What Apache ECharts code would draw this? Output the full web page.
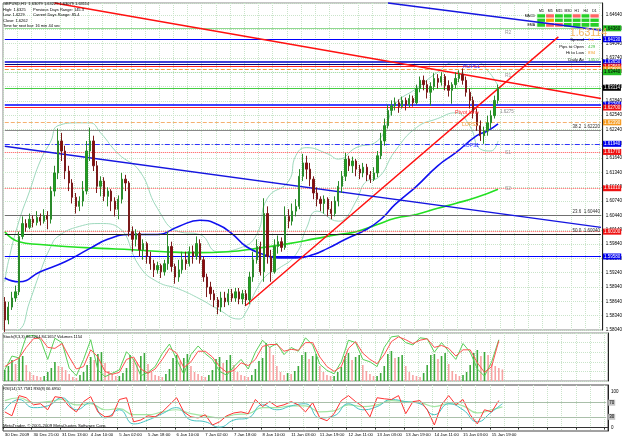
<!DOCTYPE html>
<html>
<head>
<meta charset="UTF-8">
<title>GBPUSD,H1</title>
<style>
    html, body { margin: 0; padding: 0; background: #fff; }
    #chart { width: 625px; height: 438px; }
</style>
</head>
<body>
<div id="chart"></div>
<script src="https://cdn.jsdelivr.net/npm/echarts@6/dist/echarts.min.js"></script>
<script>
// time labels, one every 8 bars
var tickLabels = ['30 Dec 2009', '30 Dec 21:00', '31 Dec 13:00', '4 Jan 10:00', '5 Jan 02:00', '5 Jan 18:00',
    '6 Jan 10:00', '7 Jan 02:00', '7 Jan 18:00', '8 Jan 10:00', '11 Jan 03:00', '11 Jan 19:00',
    '12 Jan 11:00', '13 Jan 03:00', '13 Jan 19:00', '14 Jan 11:00', '15 Jan 03:00', '15 Jan 19:00'];

// [open, close, low, high]
var ohlc = [
    [1.5863,1.5825,1.5800,1.5873],[1.5825,1.5852,1.5816,1.5863],[1.5852,1.5871,1.5846,1.5884],[1.5871,1.5884,1.5863,1.5897],
    [1.5884,1.6000,1.5877,1.6010],[1.6000,1.6027,1.5994,1.6042],[1.6027,1.6019,1.6010,1.6036],[1.6019,1.6036,1.6015,1.6048],
    [1.6036,1.6029,1.6019,1.6044],[1.6029,1.6040,1.6023,1.6053],[1.6040,1.6032,1.6023,1.6048],[1.6032,1.6044,1.6027,1.6057],
    [1.6044,1.6036,1.6015,1.6053],[1.6036,1.6095,1.6027,1.6105],[1.6095,1.6133,1.6084,1.6148],[1.6133,1.6200,1.6120,1.6226],
    [1.6200,1.6179,1.6158,1.6217],[1.6179,1.6137,1.6120,1.6190],[1.6137,1.6112,1.6095,1.6148],[1.6112,1.6082,1.6069,1.6120],
    [1.6082,1.6063,1.6048,1.6091],[1.6063,1.6074,1.6053,1.6084],[1.6074,1.6095,1.6063,1.6116],[1.6095,1.6179,1.6088,1.6200],
    [1.6179,1.6200,1.6158,1.6228],[1.6200,1.6148,1.6137,1.6211],[1.6148,1.6105,1.6091,1.6158],[1.6105,1.6116,1.6084,1.6126],
    [1.6116,1.6084,1.6074,1.6124],[1.6084,1.6095,1.6063,1.6103],[1.6095,1.6074,1.6053,1.6099],[1.6074,1.6057,1.6042,1.6082],
    [1.6057,1.6078,1.6036,1.6086],[1.6078,1.6120,1.6069,1.6133],[1.6120,1.6112,1.6095,1.6129],[1.6112,1.6010,1.6000,1.6116],
    [1.6010,1.5994,1.5968,1.6021],[1.5994,1.6006,1.5979,1.6015],[1.6006,1.5972,1.5958,1.6010],[1.5972,1.5985,1.5951,1.5994],
    [1.5985,1.5958,1.5943,1.5989],[1.5958,1.5943,1.5930,1.5968],[1.5943,1.5930,1.5915,1.5951],[1.5930,1.5939,1.5922,1.5947],
    [1.5939,1.5926,1.5913,1.5943],[1.5926,1.5943,1.5918,1.5951],[1.5943,1.5979,1.5930,1.6010],[1.5979,1.5937,1.5926,1.5989],
    [1.5937,1.5915,1.5901,1.5943],[1.5915,1.5930,1.5905,1.5951],[1.5930,1.5951,1.5922,1.5968],[1.5951,1.5943,1.5930,1.5968],
    [1.5943,1.5968,1.5937,1.5979],[1.5968,1.5958,1.5943,1.5981],[1.5958,1.5985,1.5951,1.6000],[1.5985,1.5951,1.5943,1.5994],
    [1.5951,1.5915,1.5905,1.5958],[1.5915,1.5894,1.5873,1.5922],[1.5894,1.5880,1.5867,1.5905],[1.5880,1.5867,1.5852,1.5888],
    [1.5867,1.5852,1.5837,1.5873],[1.5852,1.5871,1.5842,1.5884],[1.5871,1.5863,1.5852,1.5884],[1.5863,1.5880,1.5856,1.5890],
    [1.5880,1.5871,1.5863,1.5890],[1.5871,1.5884,1.5863,1.5892],[1.5884,1.5869,1.5858,1.5892],[1.5869,1.5880,1.5858,1.5888],
    [1.5880,1.5867,1.5854,1.5888],[1.5867,1.5915,1.5858,1.5926],[1.5915,1.5951,1.5905,1.5968],[1.5951,1.5979,1.5943,1.5994],
    [1.5979,1.5926,1.5918,1.5989],[1.5926,1.6048,1.5905,1.6080],[1.6048,1.5958,1.5943,1.6063],[1.5958,1.5926,1.5905,1.5972],
    [1.5926,1.5979,1.5922,1.5994],[1.5979,1.5989,1.5964,1.6002],[1.5989,1.5977,1.5968,1.5998],[1.5977,1.6042,1.5972,1.6063],
    [1.6042,1.6032,1.6017,1.6057],[1.6032,1.6053,1.6023,1.6069],[1.6053,1.6063,1.6042,1.6078],[1.6063,1.6126,1.6057,1.6141],
    [1.6126,1.6154,1.6116,1.6173],[1.6154,1.6141,1.6120,1.6169],[1.6141,1.6120,1.6105,1.6154],[1.6120,1.6091,1.6078,1.6126],
    [1.6091,1.6078,1.6063,1.6103],[1.6078,1.6069,1.6053,1.6084],[1.6069,1.6078,1.6048,1.6086],[1.6078,1.6057,1.6042,1.6082],
    [1.6057,1.6048,1.6036,1.6074],[1.6048,1.6074,1.6042,1.6084],[1.6074,1.6105,1.6063,1.6116],[1.6105,1.6126,1.6091,1.6137],
    [1.6126,1.6162,1.6116,1.6175],[1.6162,1.6148,1.6137,1.6169],[1.6148,1.6158,1.6133,1.6167],[1.6158,1.6141,1.6126,1.6162],
    [1.6141,1.6133,1.6120,1.6150],[1.6133,1.6145,1.6124,1.6154],[1.6145,1.6129,1.6116,1.6152],[1.6129,1.6120,1.6112,1.6137],
    [1.6120,1.6133,1.6116,1.6145],[1.6133,1.6169,1.6124,1.6179],[1.6169,1.6200,1.6162,1.6217],[1.6200,1.6232,1.6190,1.6247],
    [1.6232,1.6264,1.6226,1.6276],[1.6264,1.6274,1.6253,1.6285],[1.6274,1.6280,1.6264,1.6291],[1.6280,1.6272,1.6259,1.6287],
    [1.6272,1.6285,1.6268,1.6293],[1.6285,1.6276,1.6264,1.6291],[1.6276,1.6289,1.6270,1.6297],[1.6289,1.6280,1.6272,1.6295],
    [1.6280,1.6310,1.6276,1.6318],[1.6310,1.6327,1.6302,1.6335],[1.6327,1.6318,1.6306,1.6337],[1.6318,1.6302,1.6289,1.6327],
    [1.6302,1.6314,1.6274,1.6323],[1.6314,1.6331,1.6306,1.6342],[1.6331,1.6323,1.6310,1.6340],[1.6323,1.6335,1.6316,1.6344],
    [1.6335,1.6316,1.6306,1.6340],[1.6316,1.6306,1.6293,1.6327],[1.6306,1.6318,1.6278,1.6323],[1.6318,1.6331,1.6310,1.6344],
    [1.6331,1.6340,1.6323,1.6348],[1.6340,1.6327,1.6318,1.6352],[1.6327,1.6302,1.6293,1.6335],[1.6302,1.6285,1.6268,1.6310],
    [1.6285,1.6259,1.6247,1.6293],[1.6259,1.6232,1.6221,1.6268],[1.6232,1.6211,1.6200,1.6243],[1.6211,1.6221,1.6194,1.6230],
    [1.6221,1.6238,1.6211,1.6253],[1.6238,1.6253,1.6226,1.6264],[1.6253,1.6285,1.6247,1.6295],[1.6285,1.6312,1.6278,1.6318]
];

var volumes = [1100,1500,2100,1700,2300,2500,1600,900, 600,500,400,500,900,1300,1900,1500,
    1400,1100,700,400,300,600,900,1600, 2400,2100,2700,2900,1800,1000,700,500,
    500,800,1300,2600,2200,1900,2500,2800, 1700,900,600,500,400,700,1200,2300,
    2600,2000,2300,2700,1500,900,700,500, 400,600,1100,2200,2400,1800,2100,2600,
    1600,900,600,500,400,600,1200,2000, 2300,3800,3400,2600,1500,900,600,800,
    700,1000,1500,2600,2900,2200,2500,2700, 1500,900,600,500,500,900,1400,2500,
    2800,2100,2400,2600,1600,1000,700,500, 500,800,1500,2700,3000,2300,2400,2600,
    1500,900,600,500,400,800,1600,2600, 2700,2200,2500,2800,1700,1000,700,500,
    600,900,1600,2800,3100,2500,2900,2600, 1700,1500,1300,1154];

// [bar, price]
var maBlue = [[0,1.5913],[4,1.5905],[10,1.5926],[17,1.5947],[24,1.5975],[29,1.5994],[35,1.6004],[43,1.6004],
    [49,1.6021],[55,1.6034],[60,1.6025],[64,1.6006],[68,1.5979],[73,1.5962],[77,1.5955],[82,1.5955],
    [87,1.5962],[91,1.5975],[96,1.5994],[102,1.6015],[106,1.6036],[110,1.6067],[116,1.6105],[122,1.6148],
    [127,1.6175],[133,1.6211],[136,1.6221],[139,1.6236]];
var maGreen = [[0,1.6010],[4,1.5989],[10,1.5983],[17,1.5979],[27,1.5975],[36,1.5972],[45,1.5968],[54,1.5966],
    [63,1.5968],[71,1.5975],[80,1.5985],[88,1.5996],[94,1.6004],[99,1.6010],[105,1.6025],[110,1.6038],
    [116,1.6046],[122,1.6059],[127,1.6069],[133,1.6082],[139,1.6099]];
var bbUpper = [[0,1.5905],[1,1.5947],[4,1.6032],[7,1.6095],[10,1.6158],[13,1.6200],[15,1.6232],[21,1.6238],
    [24,1.6238],[27,1.6217],[32,1.6173],[38,1.6137],[43,1.6059],[49,1.6010],[55,1.6004],[60,1.5968],
    [66,1.5975],[71,1.6004],[74,1.6080],[80,1.6116],[82,1.6169],[85,1.6186],[91,1.6173],[94,1.6162],
    [99,1.6186],[105,1.6200],[108,1.6243],[110,1.6278],[116,1.6310],[122,1.6344],[127,1.6365],[133,1.6365],
    [136,1.6348],[139,1.6316]];
var bbLower = [[0,1.5800],[1,1.5800],[4,1.5804],[7,1.5863],[10,1.5926],[13,1.5979],[15,1.6000],[21,1.6021],
    [27,1.6027],[32,1.6019],[38,1.5937],[43,1.5905],[49,1.5890],[55,1.5869],[60,1.5848],[66,1.5827],
    [68,1.5842],[71,1.5890],[74,1.5920],[77,1.5932],[82,1.5962],[85,1.6017],[88,1.6053],[94,1.6032],
    [96,1.6038],[99,1.6074],[102,1.6116],[105,1.6122],[110,1.6179],[116,1.6228],[122,1.6247],[127,1.6259],
    [131,1.6232],[134,1.6183],[137,1.6179],[139,1.6200]];

// horizontal levels on the price chart
var levelPrices = [1.6436, 1.6413, 1.6365, 1.6361, 1.6356, 1.6350, 1.6344, 1.63114, 1.6276, 1.6270,
    1.6239, 1.6222, 1.6194, 1.6177, 1.6101, 1.6044, 1.6010, 1.6004, 1.5958];
var fibText = {11: '38.2  1.62220', 15: '23.6  1.60440', 17: '50.0  1.60040'};

// trend lines: [[bar, price], [bar, price]]
var trendLines = [
    [[14, 1.6489], [168, 1.6289]],
    [[68, 1.5856], [156, 1.6418]],
    [[0, 1.6189], [168, 1.6019]],
    [[108, 1.6489], [168, 1.6432]]
];

// stochastic, one value every 2 bars
var stochK = [23,52,48,93,95,86,45,89,80,27,11,45,86,23,9,16,23,61,45,11,18,30,57,77,45,14,55,73,57,45,
    20,12,30,45,25,60,85,70,78,55,70,62,90,75,35,22,15,40,85,80,45,40,30,70,92,94,80,75,90,88,
    60,80,62,45,78,60,25,10,40,86];
var stochD = [30,40,48,70,88,90,70,68,78,50,25,30,65,50,20,14,18,45,50,25,16,25,45,68,58,28,40,62,62,50,
    30,18,22,38,32,45,72,76,76,62,66,64,80,80,50,30,20,30,68,82,58,45,36,55,82,92,86,78,85,88,
    70,74,68,52,65,65,38,18,30,84];

// lower window, red every 2 bars, the others every 4 bars
var rsiRed = [44,33,90,84,64,67,50,87,84,59,44,73,87,44,30,33,79,84,16,21,33,30,44,64,84,44,30,27,36,7,
    16,33,41,44,39,79,59,73,59,64,73,64,44,70,27,19,39,76,90,73,59,30,84,81,79,90,39,73,76,50,
    7,64,90,64,79,36,10,50,44,76];
var rsiGreen = [76,84,70,73,79,64,67,50,53,36,36,44,50,39,33,27,36,39,56,56,61,61,44,47,64,59,64,76,73,70,59,67,61,41,50,58];
var rsiTeal = [50,79,56,61,84,50,70,27,50,10,21,39,56,21,16,1,21,27,64,50,61,67,27,33,67,50,59,79,73,67,36,67,50,16,44,67];
var rsiLevels = [70, 30];

// timeframe signal panel
var tfNames = ['M1', 'M5', 'M15', 'M30', 'H1', 'H4', 'D1'];
var sigNames = ['MACD', 'STR', 'EMA'];
var sigValues = [
    [1, -1, 1, 1, -1, 1, -1],
    [1, 0, 1, 1, 1, 1, 1],
    [1, -1, -1, 1, 1, 1, 1]
];

var NCAT = 169;
var FONT = 'Liberation Sans';
var cats = [];
for (var i = 0; i < NCAT; i++) cats.push('b' + i);

function pairs(arr, step) {
    return arr.map(function (v, k) { return [k * step, v]; });
}
function lastPoint(arr, step, lastBar) {
    var p = pairs(arr.slice(0, arr.length - 1), step);
    p.push([lastBar, arr[arr.length - 1]]);
    return p;
}

var hStyle = [
    {c: '#8fd88f', t: 'solid', w: 1, bg: '#22bb22', fg: '#000'},
    {c: '#0000ff', t: 'solid', w: 1, bg: '#0000ee', fg: '#fff'},
    {c: '#0000cc', t: 'solid', w: 1.5, bg: '#0000ee', fg: '#fff'},
    {c: '#000080', t: 'solid', w: 1, bg: null},
    {c: '#ff2020', t: 'solid', w: 1, bg: '#ee1111', fg: '#fff'},
    {c: '#f0a040', t: 'dashed', w: 1, bg: '#f59a20', fg: '#fff'},
    {c: '#9fdc9f', t: 'dotted', w: 1, bg: '#22bb22', fg: '#000'},
    {c: '#44cc44', t: 'solid', w: 1, bg: '#000', fg: '#fff'},
    {c: '#0000ff', t: 'solid', w: 1.5, bg: '#0000ee', fg: '#fff'},
    {c: '#ff2020', t: 'solid', w: 1, bg: '#ee1111', fg: '#fff'},
    {c: '#f5b070', t: 'dashed', w: 1, bg: '#f59a20', fg: '#fff'},
    {c: '#888888', t: 'solid', w: 1, bg: null},
    {c: '#3030ff', t: [5, 2, 1, 2], w: 1, bg: '#0000ee', fg: '#fff'},
    {c: '#ff5050', t: 'dotted', w: 1, bg: '#ee1111', fg: '#fff'},
    {c: '#ff6060', t: 'dotted', w: 1, bg: '#ee1111', fg: '#fff'},
    {c: '#707070', t: 'solid', w: 1, bg: null},
    {c: '#ff5050', t: 'dotted', w: 1, bg: '#ee1111', fg: '#fff'},
    {c: '#202020', t: 'solid', w: 1.2, bg: null},
    {c: '#0000ff', t: 'solid', w: 1.2, bg: '#0000ee', fg: '#fff'}
];

var levelData = levelPrices.map(function (p, k) {
    var s = hStyle[k];
    var first = {coord: [0, p], lineStyle: {color: s.c, type: s.t, width: s.w}};
    if (fibText[k]) {
        first.label = {show: true, position: 'insideEndTop', formatter: fibText[k], color: '#333',
            fontSize: 4.5, distance: 1, fontFamily: FONT};
    } else if (s.bg) {
        first.label = {show: true, position: 'end', formatter: p.toFixed(5), color: s.fg, backgroundColor: s.bg,
            fontSize: 4.5, distance: 2, padding: [1, 1, 0, 1], fontFamily: FONT};
    } else {
        first.label = {show: false};
    }
    return [first, {coord: [NCAT - 1, p]}];
});

var rsiLevelData = rsiLevels.map(function (v) {
    return [{coord: [0, v], label: {show: true, position: 'end', formatter: String(v), distance: 2, fontSize: 4.5,
        color: '#000', backgroundColor: '#c4c4c4', padding: [1, 1, 0, 1], fontFamily: FONT}},
        {coord: [NCAT - 1, v]}];
});

var trendColors = ['#ff1010', '#ff1010', '#1515e0', '#1515e0'];
var trendData = trendLines.map(function (t, k) {
    return [{coord: t[0], lineStyle: {color: trendColors[k], width: 1.4, type: 'solid'}}, {coord: t[1]}];
});

var dotLine = {color: '#c9e4c9', type: 'dotted', width: 1};

function txt(x, y, s, color, size, extra) {
    var st = {text: s, x: x, y: y, fill: color || '#000', fontSize: size || 4, fontFamily: FONT};
    if (extra) for (var k in extra) st[k] = extra[k];
    return {type: 'text', style: st, silent: true, z: 100};
}

var heatData = [];
sigValues.forEach(function (row, r) {
    row.forEach(function (v, c) { heatData.push([c, r, v]); });
});

var chart = echarts.init(document.getElementById('chart'));
var option = {
    animation: false,
    backgroundColor: '#ffffff',
    grid: [
        {left: 3, right: 17, top: 3, height: 327, show: true, borderColor: '#8a8a8a', borderWidth: 1},
        {left: 3, right: 17, top: 333, height: 48, show: true, borderColor: '#8a8a8a', borderWidth: 1},
        {left: 3, right: 17, top: 385, height: 46, show: true, borderColor: '#444', borderWidth: 1},
        {left: 537, top: 14, width: 62, height: 13}
    ],
    xAxis: [
        {type: 'category', gridIndex: 0, data: cats, axisLine: {show: false}, axisTick: {show: false},
            axisLabel: {show: false}, splitLine: {show: true, interval: 3, lineStyle: dotLine}},
        {type: 'category', gridIndex: 1, data: cats, axisLine: {show: false}, axisTick: {show: false},
            axisLabel: {show: false}, splitLine: {show: true, interval: 3, lineStyle: dotLine}},
        {type: 'category', gridIndex: 2, data: cats, axisLine: {show: true, lineStyle: {color: '#333'}},
            axisTick: {show: true, interval: 7, length: 2, lineStyle: {color: '#333'}},
            axisLabel: {show: true, interval: 7, align: 'left', margin: 2, fontSize: 4.3, color: '#000',
                fontFamily: FONT,
                formatter: function (v, idx) { return idx % 8 === 0 && tickLabels[idx / 8] ? tickLabels[idx / 8] : ''; }},
            splitLine: {show: true, interval: 3, lineStyle: dotLine}},
        {type: 'category', gridIndex: 3, data: tfNames, position: 'top', axisLine: {show: false},
            axisTick: {show: false}, axisLabel: {fontSize: 3.5, margin: 1, color: '#000', fontFamily: FONT}}
    ],
    yAxis: [
        {type: 'value', gridIndex: 0, position: 'right', min: 1.5804, max: 1.6489, interval: 0.003,
            axisLine: {show: true, lineStyle: {color: '#222'}}, axisTick: {show: false},
            axisLabel: {fontSize: 4.5, color: '#000', margin: 3, fontFamily: FONT, showMaxLabel: false,
                formatter: function (v) { return v.toFixed(5); }},
            splitLine: {show: true, lineStyle: dotLine}},
        {type: 'value', gridIndex: 1, position: 'right', min: 0, max: 100, interval: 20,
            axisLine: {show: true, lineStyle: {color: '#222'}}, axisTick: {show: false},
            axisLabel: {show: false}, splitLine: {show: true, lineStyle: dotLine}},
        {type: 'value', gridIndex: 1, min: 0, max: 4800, show: false},
        {type: 'value', gridIndex: 2, position: 'right', min: -10, max: 120, interval: 10,
            axisLine: {show: true, lineStyle: {color: '#222'}}, axisTick: {show: false},
            axisLabel: {fontSize: 4.5, color: '#000', margin: 3, fontFamily: FONT,
                formatter: function (v) { return (Math.abs(v - 100) < 1e-6 || Math.abs(v) < 1e-6) ? String(Math.round(v)) : ''; }},
            splitLine: {show: false}},
        {type: 'category', gridIndex: 3, data: sigNames, inverse: true, axisLine: {show: false},
            axisTick: {show: false}, axisLabel: {fontSize: 3.5, margin: 2, color: '#000', fontFamily: FONT}}
    ],
    visualMap: {
        show: false, type: 'piecewise', seriesIndex: 13, dimension: 2,
        pieces: [{value: 1, color: '#26d026'}, {value: 0, color: '#ffa000'}, {value: -1, color: '#ff6464'}]
    },
    series: [
        {   // 0 candles
            type: 'candlestick', xAxisIndex: 0, yAxisIndex: 0, data: ohlc, barMaxWidth: 2.4,
            itemStyle: {color: '#1fa31f', color0: '#8c0a0a', borderColor: '#2a8a2a', borderColor0: '#7a1a1a', borderWidth: 1},
            z: 5
        },
        {   // 1 horizontal levels
            type: 'line', xAxisIndex: 0, yAxisIndex: 0, data: [], silent: true,
            markLine: {symbol: ['none', 'none'], silent: true, animation: false, data: levelData}
        },
        {   // 2 trend lines
            type: 'line', xAxisIndex: 0, yAxisIndex: 0, data: [], silent: true,
            markLine: {symbol: ['none', 'none'], silent: true, animation: false, label: {show: false}, data: trendData}
        },
        {type: 'line', xAxisIndex: 0, yAxisIndex: 0, data: bbUpper, smooth: true, showSymbol: false,
            lineStyle: {color: '#9ed9bd', width: 1}, z: 3},
        {type: 'line', xAxisIndex: 0, yAxisIndex: 0, data: bbLower, smooth: true, showSymbol: false,
            lineStyle: {color: '#9ed9bd', width: 1}, z: 3},
        {type: 'line', xAxisIndex: 0, yAxisIndex: 0, data: maGreen, smooth: true, showSymbol: false,
            lineStyle: {color: '#22e022', width: 1.6}, z: 4},
        {type: 'line', xAxisIndex: 0, yAxisIndex: 0, data: maBlue, smooth: true, showSymbol: false,
            lineStyle: {color: '#1010f0', width: 1.6}, z: 4},
        {   // 7 volumes
            type: 'bar', xAxisIndex: 1, yAxisIndex: 2, barWidth: 1.6,
            data: volumes.map(function (v, k) {
                return {value: v, itemStyle: {color: (k === 0 || v >= volumes[k - 1]) ? '#3daa3d' : '#f7a3a3'}};
            })
        },
        {type: 'line', xAxisIndex: 1, yAxisIndex: 1, data: pairs(stochK, 2), showSymbol: false,
            lineStyle: {color: '#58d058', width: 1}},
        {type: 'line', xAxisIndex: 1, yAxisIndex: 1, data: pairs(stochD, 2), showSymbol: false,
            lineStyle: {color: '#ff5050', width: 1}},
        {   // 10 lower window
            type: 'line', xAxisIndex: 2, yAxisIndex: 3, data: lastPoint(rsiGreen, 4, 139), smooth: true, showSymbol: false,
            lineStyle: {color: '#a3e6a3', width: 1.2},
            markLine: {symbol: ['none', 'none'], silent: true, animation: false,
                lineStyle: {color: '#a9bfa9', type: 'solid', width: 1},
                data: rsiLevelData}
        },
        {type: 'line', xAxisIndex: 2, yAxisIndex: 3, data: lastPoint(rsiTeal, 4, 139), smooth: true, showSymbol: false,
            lineStyle: {color: '#45c3c3', width: 1}},
        {type: 'line', xAxisIndex: 2, yAxisIndex: 3, data: pairs(rsiRed, 2), showSymbol: false,
            lineStyle: {color: '#ff3333', width: 1}},
        {   // 13 timeframe panel
            type: 'heatmap', xAxisIndex: 3, yAxisIndex: 4, data: heatData,
            itemStyle: {borderColor: '#fff', borderWidth: 1}
        }
    ],
    graphic: [
        txt(3, 2, 'GBPUSD,H1  1.63079 1.63229 1.63079 1.63114'),
        txt(3, 7.5, 'High: 1.6325'), txt(33, 7.5, 'Previous Days Range: 145.3'),
        txt(3, 13, 'Low: 1.6229'), txt(33, 13, 'Current Days Range: 85.4'),
        txt(3, 18.5, 'Close: 1.6262'),
        txt(3, 24, 'Time for next bar: 16 min 44 sec'),
        txt(607, 28, '1.63114', '#f5b45a', 10.5, {textAlign: 'right'}),
        txt(584, 38, 'Spread', '#000', 4.3, {textAlign: 'right'}), txt(588, 38, '3.0', '#f0a030', 4.3),
        txt(584, 44.5, 'Pips to Open', '#000', 4.3, {textAlign: 'right'}), txt(588, 44.5, '429', '#3cc03c', 4.3),
        txt(584, 51, 'Hi to Low', '#000', 4.3, {textAlign: 'right'}), txt(588, 51, '894', '#f0a030', 4.3),
        txt(584, 58, 'Daily Av', '#000', 4.3, {textAlign: 'right'}), txt(588, 58, '145.0', '#3cc03c', 4.3),
        txt(505, 30, 'R2', '#999', 5),
        txt(463, 64, 'HOPS1', '#3030ff', 5),
        txt(505, 73, 'R1', '#999', 5),
        txt(455, 109, 'Pivot Line', '#ff3030', 5.5),
        txt(500, 109, '1.6275', '#888', 4.5),
        txt(462, 122, 'LOPS2', '#f0a040', 5),
        txt(463, 143, 'LOPS1', '#3030ff', 5),
        txt(505, 150, 'S1', '#999', 5),
        txt(505, 186, 'S2', '#999', 5),
        txt(3, 335, 'Stoch(8,3,3) 86.4264 84.1657 Volumes 1154', '#000', 4),
        txt(3, 387, 'RSI(14) 57.7581 RSI(8) 66.6950', '#000', 4),
        txt(3, 424, 'MetaTrader, \u00a9 2001-2009 MetaQuotes Software Corp.', '#000', 4.3)
    ]
};
chart.setOption(option);
</script>
</body>
</html>
